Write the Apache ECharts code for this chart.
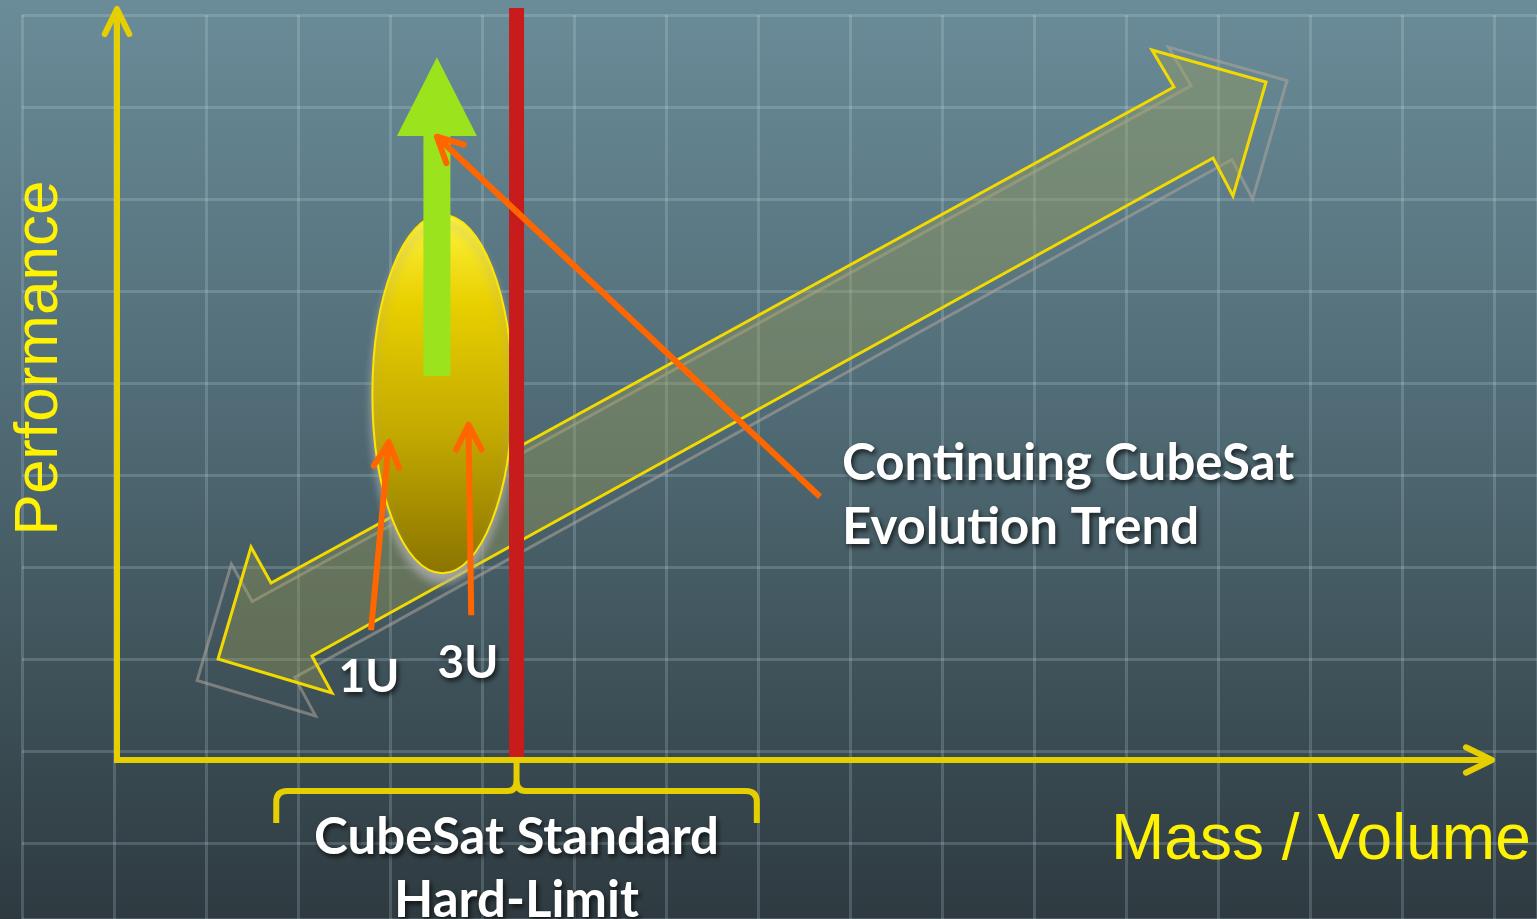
<!DOCTYPE html>
<html>
<head>
<meta charset="utf-8">
<title>CubeSat Evolution Trend</title>
<script src="https://cdn.jsdelivr.net/npm/echarts/dist/echarts.min.js"></script>
<style>
  html, body { margin: 0; padding: 0; background: #44575f; }
  #chart { width: 1537px; height: 919px; }
</style>
</head>
<body>
<div id="chart"></div>
<script>
// Performance against mass / volume, both in relative units (0-100)
const axisExtent = [0, 100];
const hardLimit = 29.1;                 // CubeSat standard upper bound on mass / volume
const limitBracket = [11.6, 46.6];      // span of the bracket under the axis
const cubesatX = [18.6, 28.8];          // extent of the current CubeSat cluster
const cubesatY = [24.9, 72.7];
const growthArrow = [23.3, 51.2, 93.7, 83.2];   // x, shaft base, tip, head base

// outline of the two-headed trend arrow (mass / volume, performance)
const trendOutline = [
  [9.76, 28.4], [11.22, 23.6], [76.98, 89.73], [75.38, 94.67], [83.69, 90.4],
  [81.28, 75.2], [79.83, 80.27], [14.2, 13.87], [15.66, 8.93], [7.36, 13.47]
];

// pointer arrows: [fromX, fromY, toX, toY]
const pointerArrows = [
  [51.2, 35.1, 23.3, 83.1],
  [18.5, 17.3, 19.8, 42.4],
  [25.8, 19.3, 25.6, 44.7]
];

const unitLabels = ['1U', '3U'];
const unitLabelPos = [[18.35, 11.0], [25.56, 12.9]];
const trendLabel = ['Continuing CubeSat', 'Evolution Trend'];
const trendLabelPos = [52.8, 35.25];
const limitLabel = ['CubeSat Standard', 'Hard-Limit'];
const limitLabelY = -14.5;
const axisTitles = ['Performance', 'Mass / Volume'];

const AXIS_YELLOW = '#e6cf00';
const TITLE_YELLOW = '#fff200';
const LIMIT_RED = '#c81c1c';
const GROWTH_GREEN = '#9be31c';
const POINTER_ORANGE = '#ff6600';
const LABEL_FONT = 'Lato, "Open Sans", sans-serif';
const GRID_LINE = { color: 'rgba(215,235,245,0.19)', width: 3 };

const chart = echarts.init(document.getElementById('chart'));

function chevron(tip, back, len, angleDeg, style) {
  const a = angleDeg * Math.PI / 180;
  const ang = Math.atan2(back[1], back[0]);
  const p1 = [tip[0] + len * Math.cos(ang + a), tip[1] + len * Math.sin(ang + a)];
  const p2 = [tip[0] + len * Math.cos(ang - a), tip[1] + len * Math.sin(ang - a)];
  return { type: 'polyline', shape: { points: [p1, tip, p2] }, style: style };
}

const whiteText = {
  fill: '#ffffff',
  fontFamily: LABEL_FONT,
  fontWeight: 'bold',
  textShadowColor: 'rgba(0,0,0,0.7)',
  textShadowBlur: 5,
  textShadowOffsetX: 2,
  textShadowOffsetY: 3
};

const option = {
  backgroundColor: new echarts.graphic.LinearGradient(0, 0, 0, 1, [
    { offset: 0, color: '#6a8c98' },
    { offset: 0.45, color: '#506b75' },
    { offset: 1, color: '#2e3a40' }
  ]),
  animation: false,
  grid: [
    { left: 22, top: 15, right: 0, bottom: 0 },
    { left: 117, right: 47, top: 10, bottom: 159 }
  ],
  xAxis: [
    {
      gridIndex: 0, type: 'value', min: 0, max: 1515, interval: 92,
      axisLine: { show: false }, axisTick: { show: false }, axisLabel: { show: false },
      splitLine: { show: true, lineStyle: GRID_LINE }
    },
    { gridIndex: 1, type: 'value', min: axisExtent[0], max: axisExtent[1], show: false }
  ],
  yAxis: [
    {
      gridIndex: 0, type: 'value', min: 0, max: 904, interval: 92, inverse: true,
      axisLine: { show: false }, axisTick: { show: false }, axisLabel: { show: false },
      splitLine: { show: true, lineStyle: GRID_LINE }
    },
    { gridIndex: 1, type: 'value', min: axisExtent[0], max: axisExtent[1], show: false }
  ],
  graphic: [
    {
      type: 'text', x: 40, y: 358, rotation: Math.PI / 2,
      style: {
        text: axisTitles[0], fill: TITLE_YELLOW, fontSize: 62,
        fontFamily: '"Liberation Sans", Arial, sans-serif',
        align: 'center', verticalAlign: 'middle'
      }
    },
    {
      type: 'text', x: 1111, y: 841,
      style: {
        text: axisTitles[1], fill: TITLE_YELLOW, fontSize: 64,
        fontFamily: '"Liberation Sans", Arial, sans-serif',
        align: 'left', verticalAlign: 'middle'
      }
    }
  ],
  series: [
    // two-headed trend arrow with its soft outline
    {
      type: 'custom', xAxisIndex: 1, yAxisIndex: 1, z: 2, silent: true,
      data: [[0]],
      renderItem: function (params, api) {
        const pts = trendOutline.map(function (p) { return api.coord(p); });
        let cx = 0, cy = 0;
        pts.forEach(function (p) { cx += p[0]; cy += p[1]; });
        cx /= pts.length; cy /= pts.length;
        const halo = pts.map(function (p) {
          return [cx + (p[0] - cx) * 1.04, cy + (p[1] - cy) * 1.04 + 10];
        });
        return {
          type: 'group', children: [
            { type: 'polygon', shape: { points: halo },
              style: { fill: null, stroke: 'rgba(175,165,155,0.55)', lineWidth: 3 } },
            { type: 'polygon', shape: { points: pts },
              style: { fill: 'rgba(160,160,80,0.35)', stroke: '#f2da00', lineWidth: 3 } }
          ]
        };
      }
    },
    // current CubeSat cluster
    {
      type: 'custom', xAxisIndex: 1, yAxisIndex: 1, z: 3, silent: true,
      data: [[0]],
      renderItem: function (params, api) {
        const lt = api.coord([cubesatX[0], cubesatY[1]]);
        const rb = api.coord([cubesatX[1], cubesatY[0]]);
        return {
          type: 'ellipse',
          shape: { cx: (lt[0] + rb[0]) / 2, cy: (lt[1] + rb[1]) / 2,
                   rx: (rb[0] - lt[0]) / 2, ry: (rb[1] - lt[1]) / 2 },
          style: {
            fill: new echarts.graphic.LinearGradient(0, 0, 0, 1, [
              { offset: 0, color: '#fff43c' },
              { offset: 0.25, color: '#e8cf00' },
              { offset: 0.6, color: '#c4aa00' },
              { offset: 1, color: '#8a7400' }
            ]),
            stroke: '#ffe600', lineWidth: 2,
            shadowColor: 'rgba(170,170,170,0.9)', shadowBlur: 8, shadowOffsetY: 9
          }
        };
      }
    },
    // performance growth arrow
    {
      type: 'custom', xAxisIndex: 1, yAxisIndex: 1, z: 4, silent: true,
      data: [[0]],
      renderItem: function (params, api) {
        const base = api.coord([growthArrow[0], growthArrow[1]]);
        const tip = api.coord([growthArrow[0], growthArrow[2]]);
        const hb = api.coord([growthArrow[0], growthArrow[3]]);
        const x = base[0], sw = 13.5, hw = 40;
        return {
          type: 'polygon',
          shape: { points: [[x - sw, base[1]], [x - sw, hb[1]], [x - hw, hb[1]], [x, tip[1]],
                            [x + hw, hb[1]], [x + sw, hb[1]], [x + sw, base[1]]] },
          style: { fill: GROWTH_GREEN }
        };
      }
    },
    // standard hard limit
    {
      type: 'custom', xAxisIndex: 1, yAxisIndex: 1, z: 5, silent: true,
      data: [[hardLimit]],
      renderItem: function (params, api) {
        const b = api.coord([api.value(0), axisExtent[0]]);
        const t = api.coord([api.value(0), axisExtent[1]]);
        return {
          type: 'rect',
          shape: { x: b[0] - 7.5, y: t[1] - 2, width: 15, height: b[1] - t[1] + 2 },
          style: { fill: LIMIT_RED }
        };
      }
    },
    // axes and the bracket under the limit
    {
      type: 'custom', xAxisIndex: 1, yAxisIndex: 1, z: 6, silent: true,
      data: [[0]],
      renderItem: function (params, api) {
        const o = api.coord([axisExtent[0], axisExtent[0]]);
        const xe = api.coord([axisExtent[1], axisExtent[0]]);
        const ye = api.coord([axisExtent[0], axisExtent[1]]);
        const c = api.coord([hardLimit, axisExtent[0]]);
        const l = api.coord([limitBracket[0], axisExtent[0]]);
        const r = api.coord([limitBracket[1], axisExtent[0]]);
        const arrowStyle = { stroke: AXIS_YELLOW, lineWidth: 6, fill: null, lineCap: 'round', lineJoin: 'round' };
        const top = c[1] + 31, end = c[1] + 63;
        const brace = [
          'M', l[0], end, 'L', l[0], top + 11, 'Q', l[0], top, l[0] + 11, top,
          'L', c[0] - 9, top, 'Q', c[0], top, c[0], top - 11, 'L', c[0], c[1],
          'M', c[0], top - 11, 'Q', c[0], top, c[0] + 9, top,
          'L', r[0] - 11, top, 'Q', r[0], top, r[0], top + 11, 'L', r[0], end
        ].join(' ');
        return {
          type: 'group', children: [
            { type: 'path', shape: { pathData: brace },
              style: { stroke: AXIS_YELLOW, lineWidth: 6, fill: null } },
            { type: 'polyline', shape: { points: [ye, [o[0], o[1]], xe] },
              style: { stroke: AXIS_YELLOW, lineWidth: 6, fill: null, lineJoin: 'miter' } },
            chevron([ye[0], ye[1] - 1], [0, 1], 28, 26, arrowStyle),
            chevron([xe[0] + 2, xe[1]], [-1, 0], 29, 26, arrowStyle)
          ]
        };
      }
    },
    // pointer arrows
    {
      type: 'custom', xAxisIndex: 1, yAxisIndex: 1, z: 7, silent: true,
      data: pointerArrows,
      renderItem: function (params, api) {
        const from = api.coord([api.value(0), api.value(1)]);
        const to = api.coord([api.value(2), api.value(3)]);
        const d = [from[0] - to[0], from[1] - to[1]];
        const st = { stroke: POINTER_ORANGE, lineWidth: 6, fill: null, lineCap: 'round', lineJoin: 'round' };
        return {
          type: 'group', children: [
            { type: 'line', shape: { x1: from[0], y1: from[1], x2: to[0], y2: to[1] },
              style: { stroke: POINTER_ORANGE, lineWidth: 6, lineCap: 'butt' } },
            chevron(to, d, 28, 27, st)
          ]
        };
      }
    },
    // labels
    {
      type: 'custom', xAxisIndex: 1, yAxisIndex: 1, z: 8, silent: true,
      data: [[0]],
      renderItem: function (params, api) {
        const children = [];
        unitLabels.forEach(function (t, i) {
          const p = api.coord(unitLabelPos[i]);
          children.push({ type: 'text', x: p[0], y: p[1],
            style: Object.assign({ text: t, fontSize: 46, align: 'center', verticalAlign: 'middle' }, whiteText) });
        });
        const tp = api.coord(trendLabelPos);
        children.push({ type: 'text', x: tp[0], y: tp[1],
          style: Object.assign({ text: trendLabel.join('\n'), fontSize: 51, lineHeight: 64,
                                 align: 'left', verticalAlign: 'middle' }, whiteText) });
        const lp = api.coord([hardLimit, limitLabelY]);
        children.push({ type: 'text', x: lp[0], y: lp[1],
          style: Object.assign({ text: limitLabel.join('\n'), fontSize: 51, lineHeight: 63,
                                 align: 'center', verticalAlign: 'middle' }, whiteText) });
        return { type: 'group', children: children };
      }
    }
  ]
};

chart.setOption(option);
</script>
</body>
</html>
